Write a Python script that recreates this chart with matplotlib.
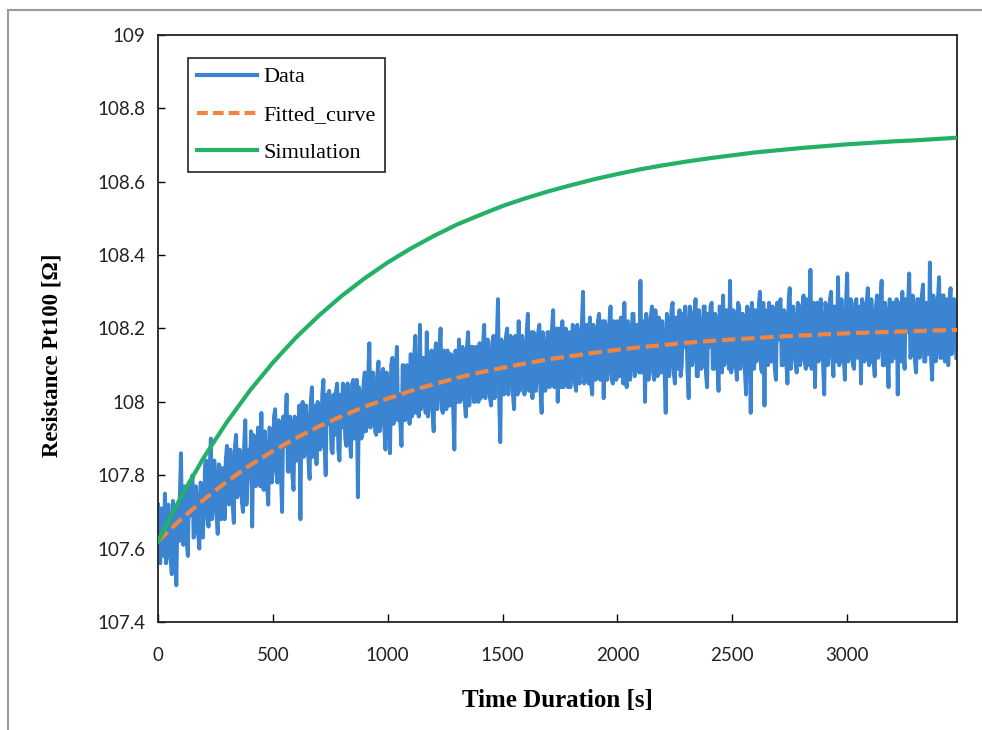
import numpy as np
import matplotlib
matplotlib.use("Agg")
import matplotlib.pyplot as plt
from matplotlib.lines import Line2D

# ---------------- data ----------------
data_step = 5  # seconds between data samples
data_values = [
    107.72, 107.57, 107.56, 107.71, 107.67, 107.58, 107.75, 107.56, 107.59, 107.72, 107.64, 107.57, 107.53, 107.73, 107.70, 107.58, 107.50, 107.72, 107.62, 107.74,
    107.86, 107.63, 107.61, 107.77, 107.74, 107.62, 107.58, 107.78, 107.69, 107.76, 107.80, 107.63, 107.65, 107.77, 107.72, 107.64, 107.60, 107.78, 107.77, 107.63,
    107.70, 107.83, 107.84, 107.69, 107.66, 107.82, 107.90, 107.68, 107.72, 107.84, 107.79, 107.69, 107.64, 107.83, 107.82, 107.68, 107.75, 107.82, 107.68, 107.84,
    107.88, 107.73, 107.72, 107.87, 107.83, 107.72, 107.67, 107.88, 107.91, 107.74, 107.76, 107.87, 107.85, 107.73, 107.70, 107.88, 107.95, 107.72, 107.79, 107.87,
    107.80, 107.92, 107.66, 107.91, 107.90, 107.77, 107.79, 107.93, 107.87, 107.77, 107.97, 107.78, 107.76, 107.92, 107.86, 107.77, 107.72, 107.93, 107.92, 107.78,
    107.83, 107.96, 107.98, 107.81, 107.78, 107.95, 107.92, 107.81, 107.70, 107.96, 107.88, 107.95, 108.02, 107.81, 107.81, 107.96, 107.94, 107.80, 107.76, 107.96,
    107.95, 107.84, 107.84, 107.99, 107.68, 107.99, 108.00, 107.85, 107.87, 107.99, 107.93, 107.84, 107.79, 108.00, 108.04, 107.85, 107.90, 107.99, 107.83, 108.00,
    107.98, 107.87, 107.88, 108.02, 108.06, 107.88, 107.80, 108.02, 107.94, 108.03, 107.99, 107.87, 107.86, 108.02, 107.91, 108.03, 108.05, 107.87, 107.84, 108.02,
    107.93, 108.05, 108.03, 107.90, 107.88, 108.05, 107.99, 107.90, 107.85, 108.05, 108.06, 107.90, 107.95, 108.06, 107.74, 108.04, 108.02, 107.90, 107.91, 108.05,
    108.08, 107.92, 107.94, 108.07, 108.16, 107.93, 107.97, 108.08, 108.05, 107.92, 107.91, 108.08, 108.11, 107.92, 107.95, 108.07, 108.09, 107.93, 107.87, 108.08,
    108.04, 107.95, 107.86, 108.10, 108.12, 107.94, 107.98, 108.09, 108.15, 107.95, 108.02, 107.94, 107.88, 108.10, 108.10, 107.95, 107.96, 108.10, 108.07, 107.94,
    108.13, 107.96, 107.97, 108.12, 108.18, 107.97, 108.05, 107.96, 108.21, 107.98, 107.99, 108.12, 108.11, 107.97, 108.19, 107.96, 108.00, 108.12, 108.14, 107.97,
    107.92, 108.13, 108.16, 107.98, 108.03, 108.13, 108.20, 107.98, 107.97, 108.14, 108.09, 107.98, 108.14, 107.99, 107.99, 108.13, 108.12, 107.98, 107.87, 108.14,
    108.08, 108.00, 108.17, 108.00, 108.01, 108.15, 108.13, 108.00, 107.96, 108.15, 108.19, 107.99, 108.05, 108.15, 108.15, 108.00, 108.00, 108.15, 108.11, 108.00,
    108.16, 108.01, 108.03, 108.16, 108.21, 108.01, 108.06, 108.17, 108.13, 108.01, 107.99, 108.16, 108.18, 108.01, 108.07, 108.17, 108.28, 108.01, 107.89, 108.17,
    108.14, 108.02, 108.03, 108.18, 108.20, 108.02, 108.09, 108.18, 108.17, 108.02, 107.98, 108.18, 108.12, 108.02, 108.22, 108.03, 108.05, 108.18, 108.15, 108.02,
    108.06, 108.19, 108.24, 108.03, 108.10, 108.19, 108.01, 108.19, 108.18, 108.03, 108.08, 108.19, 108.21, 108.03, 107.97, 108.19, 108.14, 108.03, 108.04, 108.19,
    108.19, 108.04, 108.07, 108.20, 108.25, 108.04, 108.11, 108.20, 108.00, 108.20, 108.16, 108.04, 108.22, 108.04, 108.05, 108.20, 108.13, 108.04, 108.19, 108.04,
    108.09, 108.21, 108.20, 108.05, 108.03, 108.21, 108.17, 108.05, 108.11, 108.21, 108.30, 108.05, 108.06, 108.21, 108.15, 108.05, 108.23, 108.05, 108.02, 108.21,
    108.18, 108.06, 108.08, 108.22, 108.24, 108.06, 108.12, 108.22, 108.01, 108.22, 108.20, 108.06, 108.10, 108.22, 108.26, 108.06, 108.05, 108.22, 108.16, 108.06,
    108.22, 108.07, 108.07, 108.23, 108.15, 108.05, 108.27, 108.08, 108.04, 108.22, 108.19, 108.06, 108.11, 108.24, 108.24, 108.07, 108.09, 108.21, 108.17, 108.08,
    108.33, 108.08, 108.10, 108.22, 108.00, 108.24, 108.21, 108.06, 108.14, 108.23, 108.26, 108.08, 108.06, 108.25, 108.18, 108.07, 108.23, 108.09, 108.08, 108.22,
    108.16, 108.09, 107.97, 108.24, 108.22, 108.07, 108.12, 108.25, 108.27, 108.08, 108.05, 108.23, 108.19, 108.09, 108.25, 108.07, 108.10, 108.24, 108.15, 108.26,
    108.20, 108.08, 108.01, 108.26, 108.24, 108.10, 108.13, 108.24, 108.28, 108.07, 108.07, 108.25, 108.18, 108.09, 108.11, 108.26, 108.26, 108.08, 108.04, 108.24,
    108.15, 108.26, 108.27, 108.09, 108.09, 108.24, 108.22, 108.10, 108.03, 108.26, 108.19, 108.08, 108.29, 108.10, 108.12, 108.25, 108.24, 108.09, 108.33, 108.08,
    108.10, 108.25, 108.21, 108.10, 108.06, 108.27, 108.26, 108.09, 108.14, 108.24, 108.23, 108.08, 108.02, 108.26, 108.17, 108.25, 107.97, 108.27, 108.20, 108.09,
    108.25, 108.11, 108.12, 108.26, 108.30, 108.09, 108.08, 108.27, 107.99, 108.25, 108.19, 108.10, 108.27, 108.11, 108.11, 108.26, 108.22, 108.09, 108.06, 108.27,
    108.17, 108.27, 108.28, 108.10, 108.10, 108.25, 108.24, 108.11, 108.05, 108.27, 108.31, 108.09, 108.15, 108.26, 108.21, 108.11, 108.08, 108.27, 108.26, 108.10,
    108.13, 108.26, 108.29, 108.11, 108.09, 108.28, 108.23, 108.10, 108.36, 108.09, 108.16, 108.27, 108.04, 108.26, 108.27, 108.11, 108.12, 108.28, 108.20, 108.10,
    108.02, 108.27, 108.25, 108.10, 108.14, 108.28, 108.30, 108.12, 108.07, 108.26, 108.21, 108.11, 108.34, 108.10, 108.11, 108.28, 108.19, 108.12, 108.06, 108.27,
    108.35, 108.11, 108.15, 108.28, 108.24, 108.10, 108.09, 108.27, 108.28, 108.12, 108.18, 108.26, 108.05, 108.28, 108.26, 108.11, 108.13, 108.27, 108.31, 108.10,
    108.11, 108.28, 108.22, 108.11, 108.07, 108.26, 108.29, 108.12, 108.17, 108.28, 108.33, 108.10, 108.10, 108.27, 108.24, 108.12, 108.04, 108.28, 108.20, 108.11,
    108.27, 108.12, 108.13, 108.28, 108.02, 108.27, 108.23, 108.11, 108.30, 108.13, 108.09, 108.28, 108.19, 108.27, 108.35, 108.12, 108.14, 108.29, 108.25, 108.11,
    108.08, 108.28, 108.28, 108.12, 108.17, 108.29, 108.32, 108.11, 108.11, 108.27, 108.22, 108.13, 108.38, 108.12, 108.06, 108.29, 108.26, 108.11, 108.15, 108.28,
    108.34, 108.12, 108.12, 108.29, 108.29, 108.11, 108.19, 108.28, 108.10, 108.27, 108.31, 108.13, 108.16, 108.28, 108.24, 108.12,
]
data_time = np.arange(len(data_values)) * data_step

curve_time = [0, 100, 200, 300, 400, 500, 600, 700, 800, 900, 1000, 1100, 1200,
              1300, 1400, 1500, 1600, 1700, 1800, 1900, 2000, 2100, 2200, 2300,
              2400, 2500, 2600, 2700, 2800, 2900, 3000, 3100, 3200, 3300, 3400, 3478]
fitted_values = [107.620, 107.680, 107.734, 107.783, 107.827, 107.866, 107.901,
                 107.933, 107.961, 107.987, 108.009, 108.030, 108.048, 108.065,
                 108.080, 108.093, 108.105, 108.116, 108.125, 108.134, 108.142,
                 108.149, 108.155, 108.161, 108.166, 108.170, 108.174, 108.178,
                 108.181, 108.184, 108.187, 108.189, 108.191, 108.193, 108.195, 108.196]
simulation_values = [107.620, 107.741, 107.849, 107.945, 108.031, 108.107, 108.175,
                     108.235, 108.289, 108.337, 108.380, 108.418, 108.452, 108.483,
                     108.509, 108.534, 108.555, 108.574, 108.591, 108.607, 108.621,
                     108.634, 108.645, 108.655, 108.664, 108.672, 108.680, 108.686,
                     108.692, 108.697, 108.702, 108.706, 108.710, 108.713, 108.717, 108.720]

x_ticks = [0, 500, 1000, 1500, 2000, 2500, 3000]
y_ticks = [107.4, 107.6, 107.8, 108.0, 108.2, 108.4, 108.6, 108.8, 109.0]
y_tick_labels = ["107.4", "107.6", "107.8", "108", "108.2", "108.4", "108.6", "108.8", "109"]

# ---------------- figure ----------------
W, H = 982, 730
fig = plt.figure(figsize=(W / 100, H / 100), dpi=100)
ax = fig.add_axes([158 / W, 1 - 622 / H, (957 - 158) / W, (622 - 35) / H])

blue = "#3A84D2"
orange = "#F2853F"
green = "#24B167"

ax.plot(data_time, data_values, color=blue, lw=2.8, zorder=2)
ax.plot(curve_time, fitted_values, color=orange, lw=3.0, dashes=(3.2, 1.4), zorder=3)
ax.plot(curve_time, simulation_values, color=green, lw=3.0, zorder=4)

ax.set_xlim(0, 3478)
ax.set_ylim(107.4, 109.0)
ax.set_xticks(x_ticks)
ax.set_yticks(y_ticks)
ax.set_yticklabels(y_tick_labels)

tick_font = "Lato"
for lab in ax.get_xticklabels() + ax.get_yticklabels():
    lab.set_fontfamily(tick_font)
    lab.set_fontsize(13.5)
    lab.set_color("#222222")

ax.tick_params(axis="x", direction="in", length=6, width=1, pad=18,
               top=False, bottom=True)
ax.tick_params(axis="y", direction="in", length=5, width=1, pad=9,
               left=True, right=False)
for s in ax.spines.values():
    s.set_linewidth(1.3)
    s.set_color("#222222")

serif = "Liberation Serif"
fig.text(557 / W, 1 - 700 / H, "Time Duration [s]", ha="center", va="center",
         fontfamily=serif, fontweight="bold", fontsize=18)
fig.text(52 / W, 1 - 355 / H, "Resistance Pt100 [\u03a9]", ha="center", va="center",
         rotation=90, fontfamily=serif, fontweight="bold", fontsize=16.5)

handles = [
    Line2D([], [], color=blue, lw=3.0),
    Line2D([], [], color=orange, lw=3.0, dashes=(2.6, 1.2)),
    Line2D([], [], color=green, lw=3.0),
]
leg = ax.legend(handles, ["Data", "Fitted_curve", "Simulation"],
                loc="upper left", bbox_to_anchor=((188 - 158) / (957 - 158), 1 - (58 - 35) / (622 - 35)),
                prop={"family": serif, "size": 16}, frameon=True, fancybox=False,
                edgecolor="#222222", framealpha=1, handlelength=2.7, handletextpad=0.3,
                labelspacing=0.78, borderpad=0.4, borderaxespad=0)
leg.get_frame().set_linewidth(1.2)

# outer gray frame of the scanned page
fig.add_artist(Line2D([8 / W, 8 / W], [0, 1 - 10 / H], color="#9a9a9a", lw=1.5,
                      transform=fig.transFigure))
fig.add_artist(Line2D([8 / W, 1], [1 - 10 / H, 1 - 10 / H], color="#9a9a9a", lw=1.5,
                      transform=fig.transFigure))

fig.savefig("out.png", dpi=100)
